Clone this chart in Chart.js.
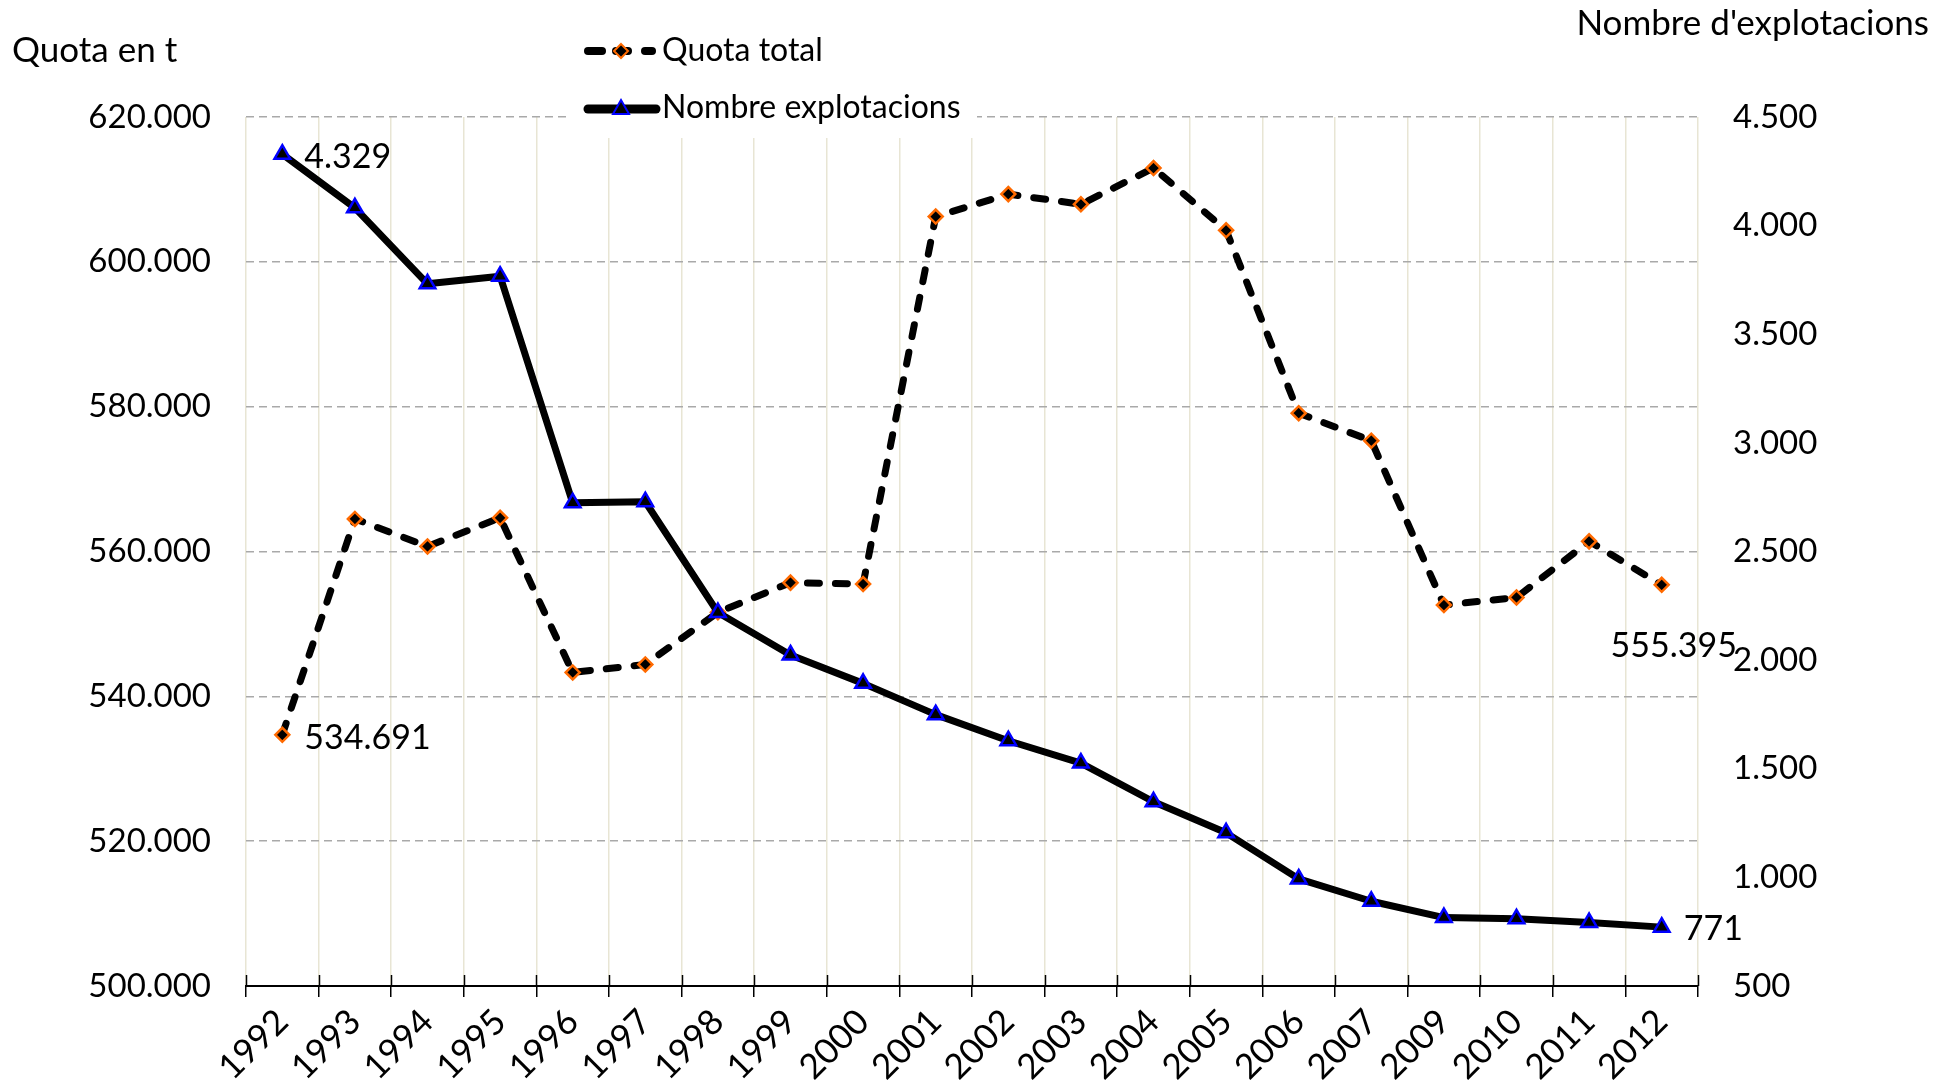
<!DOCTYPE html>
<html>
<head>
<meta charset="utf-8">
<script src="https://cdn.jsdelivr.net/npm/chart.js@4/dist/chart.umd.min.js"></script>
<style>
  html, body { margin: 0; padding: 0; background: #fff; }
  #wrap { width: 1951px; height: 1088px; position: relative; }
</style>
</head>
<body>
<div id="wrap"><canvas id="grafica"></canvas></div>
<script>
// dades llegides de la gràfica
const anys = ['1992','1993','1994','1995','1996','1997','1998','1999','2000','2001',
              '2002','2003','2004','2005','2006','2007','2009','2010','2011','2012'];
const quotaTotal = [534691, 564500, 560700, 564650, 543300, 544400, 551600, 555700, 555500, 606250,
                    609350, 607950, 612950, 604350, 579100, 575300, 552600, 553650, 561400, 555395];
const nombreExplot = [4329, 4082, 3732, 3767, 2724, 2729, 2219, 2024, 1893, 1749,
                      1629, 1526, 1348, 1205, 993, 890, 815, 809, 792, 771];
const ticksQuota = [500000, 520000, 540000, 560000, 580000, 600000, 620000];
const ticksExplot = [500, 1000, 1500, 2000, 2500, 3000, 3500, 4000, 4500];

const FONT = 'Lato, "Liberation Sans", sans-serif';
const FS = 33;
const TARONJA = '#ff6a00';
const BLAU = '#0000ff';

function punts(n){
  return String(Math.round(n)).replace(/\B(?=(\d{3})+(?!\d))/g, '.');
}

// llegenda, títols d'eixos i etiquetes de dades
const extres = {
  id: 'extres',
  beforeDatasetsDraw(chart){
    const ctx = chart.ctx;
    ctx.save();
    ctx.fillStyle = '#fff';
    ctx.fillRect(566, 20, 411, 118);
    // marques de l'eix x per sobre de la línia
    const x = chart.scales.x, b = chart.chartArea.bottom;
    ctx.strokeStyle = '#000'; ctx.lineWidth = 1.5;
    for (let i = 0; i <= anys.length; i++){
      const px = Math.round(x.getPixelForValue(i - 0.5)) + 0.5;
      ctx.beginPath(); ctx.moveTo(px, b - 11); ctx.lineTo(px, b); ctx.stroke();
    }
    ctx.restore();
  },
  afterDraw(chart){
    const ctx = chart.ctx;
    ctx.save();
    ctx.font = '35px ' + FONT;
    ctx.fillStyle = '#000';
    ctx.textBaseline = 'middle';
    ctx.textAlign = 'left';
    ctx.fillText('Quota en t', 12, 51);
    ctx.textAlign = 'right';
    ctx.fillText("Nombre d'explotacions", 1929, 24);

    // llegenda
    ctx.font = '32px ' + FONT;
    ctx.textAlign = 'left';
    ctx.lineCap = 'round';
    // Quota total
    ctx.strokeStyle = '#000'; ctx.lineWidth = 8;
    ctx.beginPath(); ctx.moveTo(588, 51); ctx.lineTo(602, 51); ctx.stroke();
    ctx.beginPath(); ctx.moveTo(616, 51); ctx.lineTo(628, 51); ctx.stroke();
    ctx.beginPath(); ctx.moveTo(645, 51); ctx.lineTo(652, 51); ctx.stroke();
    ctx.lineWidth = 2; ctx.strokeStyle = TARONJA; ctx.fillStyle = '#000';
    ctx.beginPath(); ctx.moveTo(621, 44); ctx.lineTo(628, 51); ctx.lineTo(621, 58); ctx.lineTo(614, 51); ctx.closePath();
    ctx.fill(); ctx.stroke();
    ctx.fillStyle = '#000';
    ctx.fillText('Quota total', 662, 51);
    // Nombre explotacions
    ctx.strokeStyle = '#000'; ctx.lineWidth = 9;
    ctx.beginPath(); ctx.moveTo(588, 109); ctx.lineTo(656, 109); ctx.stroke();
    ctx.lineWidth = 2; ctx.strokeStyle = BLAU;
    ctx.beginPath(); ctx.moveTo(621, 100); ctx.lineTo(629, 114); ctx.lineTo(613, 114); ctx.closePath();
    ctx.fill(); ctx.stroke();
    ctx.fillText('Nombre explotacions', 662, 108);

    // etiquetes de dades
    ctx.font = '34px ' + FONT;
    const mq = chart.getDatasetMeta(1).data;
    const mn = chart.getDatasetMeta(0).data;
    const last = anys.length - 1;
    ctx.textAlign = 'left';
    ctx.fillText(punts(nombreExplot[0]), mn[0].x + 22, mn[0].y + 3);
    ctx.fillText(punts(quotaTotal[0]), mq[0].x + 22, mq[0].y + 3);
    ctx.fillText(punts(nombreExplot[last]), mn[last].x + 22, mn[last].y + 2);
    ctx.textAlign = 'center';
    ctx.fillText(punts(quotaTotal[last]), mq[last].x + 12, mq[last].y + 61);
    ctx.restore();
  }
};

new Chart(document.getElementById('grafica'), {
  type: 'line',
  data: {
    labels: anys,
    datasets: [
      {
        label: 'Nombre explotacions',
        data: nombreExplot,
        yAxisID: 'y2',
        order: 0,
        borderColor: '#000',
        borderWidth: 7,
        borderJoinStyle: 'round',
        tension: 0,
        pointStyle: 'triangle',
        pointRadius: 9,
        pointBorderWidth: 2.5,
        pointBackgroundColor: '#000',
        pointBorderColor: BLAU
      },
      {
        label: 'Quota total',
        data: quotaTotal,
        yAxisID: 'y',
        order: 1,
        borderColor: '#000',
        borderWidth: 7,
        borderDash: [12, 16],
        borderCapStyle: 'round',
        tension: 0,
        pointStyle: 'rectRot',
        pointRadius: 7,
        pointBorderWidth: 2.5,
        pointBackgroundColor: '#000',
        pointBorderColor: TARONJA
      }
    ]
  },
  options: {
    responsive: true,
    maintainAspectRatio: false,
    animation: false,
    layout: { padding: { top: 117, left: 0, right: 0, bottom: 0 } },
    plugins: { legend: { display: false }, tooltip: { enabled: false } },
    scales: {
      x: {
        offset: true,
        grid: { offset: true, color: '#e8e5d4', lineWidth: 1.5, tickColor: '#000', tickLength: 11, tickWidth: 1.5 },
        border: { display: true, color: '#000', width: 2 },
        ticks: { color: '#000', font: { family: FONT, size: 35 }, minRotation: 45, maxRotation: 45, padding: 4 },
        afterFit(s){ s.height = 102; }
      },
      y: {
        position: 'left',
        min: 500000, max: 620000,
        afterBuildTicks(s){ s.ticks = ticksQuota.map(v => ({ value: v })); },
        grid: { color: '#a9a9a9', lineWidth: 1.5, drawTicks: false },
        border: { display: false, dash: [8, 5] },
        ticks: { color: '#000', font: { family: FONT, size: FS }, padding: 35, callback: v => punts(v) },
        afterFit(s){ s.width = 246; }
      },
      y2: {
        position: 'right',
        min: 500, max: 4500,
        afterBuildTicks(s){ s.ticks = ticksExplot.map(v => ({ value: v })); },
        grid: { display: false, drawTicks: false },
        border: { display: false },
        ticks: { color: '#000', font: { family: FONT, size: FS }, padding: 35, callback: v => punts(v) },
        afterFit(s){ s.width = 253; }
      }
    }
  },
  plugins: [extres]
});
</script>
</body>
</html>
